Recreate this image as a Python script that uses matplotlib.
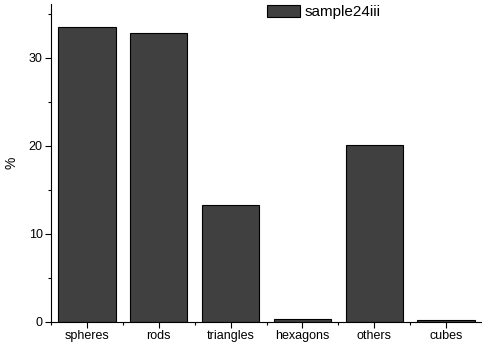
import matplotlib
matplotlib.use("Agg")
import matplotlib.pyplot as plt
from matplotlib.ticker import MultipleLocator, FixedLocator
from matplotlib.patches import Patch

plt.rcParams['font.family'] = ['Liberation Sans', 'DejaVu Sans']

categories = ["spheres", "rods", "triangles", "hexagons", "others", "cubes"]
values = [33.5, 32.8, 13.3, 0.3, 20.1, 0.2]
series_name = "sample24iii"

fig = plt.figure(figsize=(4.82, 3.45), dpi=100)
ax = fig.add_axes([51 / 482, 1 - 322 / 345, 1 - 51 / 482, 318 / 345])

x = list(range(len(categories)))
ax.bar(x, values, width=0.8, color="#404040", edgecolor="black", linewidth=0.8)

ax.set_xlim(-0.5, len(categories) - 0.5)
ax.set_ylim(0, 36.1)
ax.set_xticks(x)
ax.set_xticklabels(categories, fontsize=9)
ax.xaxis.set_minor_locator(FixedLocator([i + 0.5 for i in range(-1, len(categories))]))
ax.yaxis.set_major_locator(MultipleLocator(10))
ax.yaxis.set_minor_locator(MultipleLocator(5))
ax.tick_params(axis="both", which="major", direction="out", length=4, width=0.8, labelsize=9, pad=2)
ax.tick_params(axis="both", which="minor", direction="out", length=2.5, width=0.8)
ax.set_ylabel("%", fontsize=10, labelpad=7.5)

for side in ("top", "right"):
    ax.spines[side].set_visible(False)
for side in ("left", "bottom"):
    ax.spines[side].set_linewidth(0.8)

handle = Patch(facecolor="#404040", edgecolor="black", linewidth=0.8)
fig.legend([handle], [series_name], loc="upper left", bbox_to_anchor=(262 / 482, 1.0),
           frameon=False, fontsize=11, handlelength=2.2, handleheight=0.85,
           handletextpad=0.3, borderaxespad=0.0, borderpad=0.3)

fig.savefig("out.png", dpi=100)
